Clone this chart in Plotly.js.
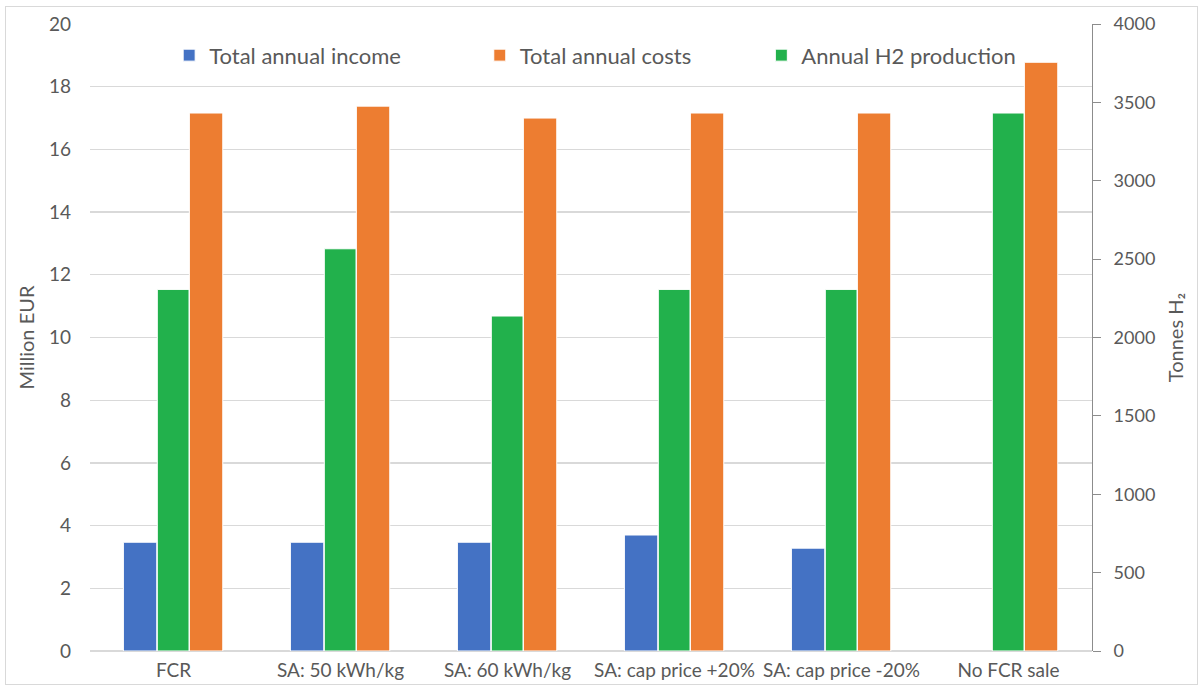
<!DOCTYPE html>
<html><head><meta charset="utf-8">
<script src="https://cdn.plot.ly/plotly-3.0.1.min.js"></script>
<style>
html,body{margin:0;padding:0;background:#fff;}
#frame{position:absolute;left:5px;top:6px;width:1191px;height:677px;border:1px solid #d9d9d9;}
#chart{position:absolute;left:0;top:0;width:1203px;height:688px;}
</style></head>
<body><div id="frame"></div><div id="chart"></div>
<script>
const categories = ["FCR","SA: 50 kWh/kg","SA: 60 kWh/kg","SA: cap price +20%","SA: cap price -20%","No FCR sale"];
const incomeMEUR = [3.47, 3.47, 3.47, 3.70, 3.28, null];
const costsMEUR = [17.16, 17.38, 17.00, 17.16, 17.16, 18.78];
const h2Tonnes = [2307, 2566, 2137, 2307, 2307, 3432];
const leftTicks = [0,2,4,6,8,10,12,14,16,18,20];
const rightTicks = [0,500,1000,1500,2000,2500,3000,3500,4000];

const fontFam = "Lato, 'Open Sans', sans-serif";
const txt = '#595959';
const blue = '#4472c4', orange = '#ed7d31', green = '#22b14c';

const traces = [
  {type:'bar', name:'Total annual income', x:categories, y:incomeMEUR, yaxis:'y',
   marker:{color:blue, line:{color:'#ffffff', width:1}}, width:0.2, offset:-0.3, legend:'legend'},
  {type:'bar', name:'Annual H2 production', x:categories, y:h2Tonnes, yaxis:'y2',
   marker:{color:green, line:{color:'#ffffff', width:1}}, width:0.19, offset:-0.097, legend:'legend3'},
  {type:'bar', name:'Total annual costs', x:categories, y:costsMEUR, yaxis:'y',
   marker:{color:orange, line:{color:'#ffffff', width:1}}, width:0.2, offset:0.095, legend:'legend2'}
];

const legBase = {orientation:'h', yanchor:'middle', xanchor:'left', y:0.95,
  font:{family:fontFam, size:22, color:txt}, bgcolor:'rgba(0,0,0,0)', itemwidth:30, tracegroupgap:0};

const layout = {
  width:1203, height:688,
  margin:{l:90, r:111, t:24, b:37},
  paper_bgcolor:'rgba(0,0,0,0)', plot_bgcolor:'rgba(0,0,0,0)',
  font:{family:fontFam, color:txt},
  barmode:'group',
  showlegend:true,
  legend:Object.assign({}, legBase, {x:0.079}),
  legend2:Object.assign({}, legBase, {x:0.389}),
  legend3:Object.assign({}, legBase, {x:0.670}),
  xaxis:{type:'category', tickfont:{family:fontFam, size:19, color:txt}, showgrid:false,
         showline:false, ticks:'', zeroline:false, fixedrange:true, ticklabelstandoff:6},
  yaxis:{range:[0,20], tickvals:leftTicks, ticktext:leftTicks.map(String),
         tickfont:{family:fontFam, size:19, color:txt}, gridcolor:'#d9d9d9', gridwidth:1.3,
         showline:false, zeroline:true, zerolinecolor:'#d9d9d9', zerolinewidth:1.3, ticks:'', ticklen:0,
         ticklabelstandoff:18,
         title:{text:'Million EUR', font:{family:fontFam, size:20, color:txt}, standoff:8}},
  yaxis2:{range:[0,4000], overlaying:'y', side:'right', tickvals:rightTicks, ticktext:rightTicks.map(String),
          tickfont:{family:fontFam, size:18, color:txt}, showgrid:false, zeroline:false,
          showline:true, linecolor:'#8c8c8c', linewidth:1, ticks:'outside', ticklen:8, tickcolor:'#8c8c8c',
          ticklabelstandoff:9,
          title:{text:'Tonnes H₂', font:{family:fontFam, size:20, color:txt}, standoff:14}}
};

Plotly.newPlot('chart', traces, layout, {displayModeBar:false, staticPlot:true});
</script></body></html>
